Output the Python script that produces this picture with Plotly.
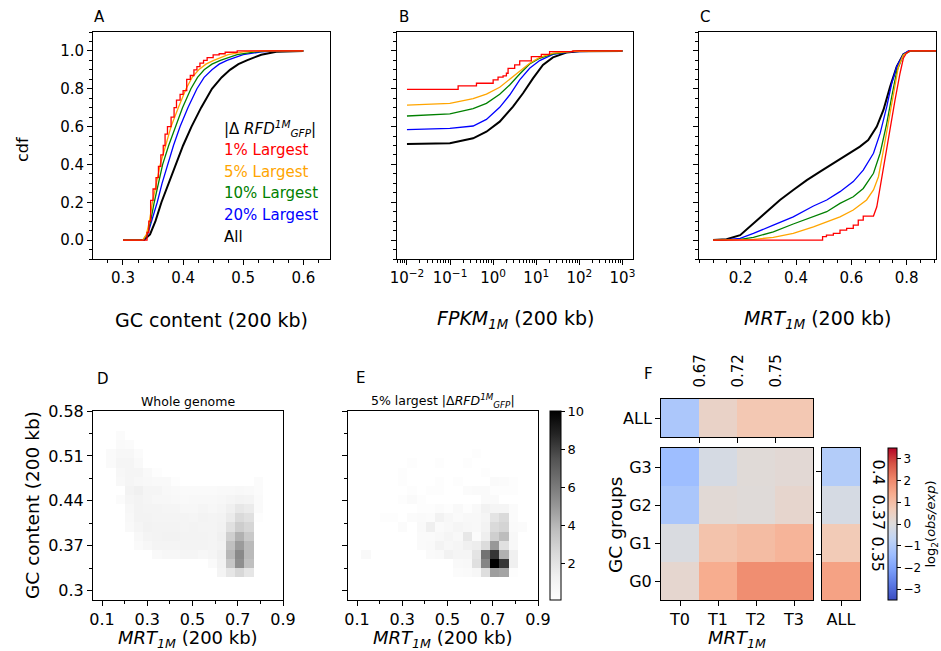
import plotly.graph_objects as go

W, H = 941, 651
FONT = "DejaVu Sans"

# ---------------------------------------------------------------- data
SERIES_NAMES = ["1% Largest", "5% Largest", "10% Largest", "20% Largest", "All"]
SERIES_COLORS = ["#ff0000", "#ffa500", "#008000", "#0000ff", "#000000"]

# Panel A : cdf of GC content (200 kb)
gc_red_x = [0.30, 0.334, 0.340, 0.343, 0.346, 0.350, 0.355, 0.359, 0.363, 0.367, 0.370, 0.374,
            0.380, 0.385, 0.389, 0.395, 0.400, 0.406, 0.412, 0.418, 0.423, 0.428, 0.434, 0.440,
            0.450, 0.460, 0.470, 0.490, 0.600]
gc_red_y = [0.0, 0.0, 0.04, 0.10, 0.21, 0.27, 0.33, 0.39, 0.45, 0.50, 0.56, 0.60,
            0.65, 0.70, 0.74, 0.77, 0.79, 0.85, 0.87, 0.90, 0.917, 0.935, 0.95, 0.965,
            0.979, 0.985, 0.993, 1.0, 1.0]
gc_cdf_y = [0.0, 0.0, 0.03, 0.10, 0.20, 0.30, 0.40, 0.50, 0.60, 0.70, 0.80, 0.86, 0.90, 0.93,
            0.95, 0.98, 0.995, 1.0, 1.0]
gc_orange_x = [0.30, 0.333, 0.339, 0.344, 0.349, 0.355, 0.362, 0.371, 0.380, 0.392, 0.405, 0.415,
               0.426, 0.438, 0.451, 0.475, 0.500, 0.530, 0.600]
gc_green_x = [0.30, 0.333, 0.340, 0.346, 0.352, 0.359, 0.366, 0.376, 0.387, 0.399, 0.413, 0.424,
              0.435, 0.448, 0.462, 0.490, 0.520, 0.550, 0.600]
gc_blue_x = [0.30, 0.334, 0.341, 0.348, 0.357, 0.365, 0.374, 0.384, 0.395, 0.408, 0.423, 0.435,
             0.448, 0.460, 0.473, 0.500, 0.530, 0.560, 0.600]
gc_all_x = [0.30, 0.335, 0.345, 0.354, 0.364, 0.376, 0.387, 0.400, 0.414, 0.430, 0.448, 0.464,
            0.478, 0.492, 0.506, 0.530, 0.555, 0.584, 0.600]

# Panel B : cdf of FPKM_1M (200 kb)
fp_red_x = [0.01, 0.154, 0.41, 1.0, 1.30, 1.70, 2.03, 2.22, 3.16, 4.13, 7.69, 13.1, 20.4, 70.8, 1000]
fp_red_y = [0.797, 0.815, 0.829, 0.847, 0.861, 0.868, 0.882, 0.908, 0.926, 0.947, 0.970, 0.982,
            0.996, 1.0, 1.0]
fp_orange_x = [0.01, 0.099, 0.343, 0.698, 1.42, 2.42, 4.13, 7.03, 12.0, 24.4, 70.8, 1000]
fp_orange_y = [0.713, 0.723, 0.748, 0.772, 0.808, 0.850, 0.891, 0.935, 0.966, 0.988, 0.998, 1.0]
fp_green_x = [0.01, 0.099, 0.343, 0.698, 1.42, 2.42, 4.13, 7.03, 12.0, 24.4, 70.8, 1000]
fp_green_y = [0.656, 0.667, 0.695, 0.723, 0.771, 0.820, 0.878, 0.931, 0.961, 0.984, 0.998, 1.0]
fp_blue_x = [0.01, 0.099, 0.343, 0.698, 1.42, 2.42, 4.13, 7.03, 12.0, 24.4, 70.8, 1000]
fp_blue_y = [0.584, 0.591, 0.603, 0.638, 0.702, 0.767, 0.847, 0.908, 0.949, 0.982, 0.996, 1.0]
fp_all_x = [0.01, 0.099, 0.343, 0.698, 1.42, 2.89, 4.93, 8.40, 14.3, 24.4, 49.7, 100, 1000]
fp_all_y = [0.508, 0.512, 0.538, 0.573, 0.626, 0.705, 0.776, 0.855, 0.926, 0.966, 0.991, 0.998, 1.0]

# Panel C : cdf of MRT_1M (200 kb)
mrt_red_x = [0.10, 0.496, 0.496, 0.51, 0.51, 0.535, 0.535, 0.559, 0.559, 0.583, 0.583, 0.607,
             0.607, 0.625, 0.625, 0.643, 0.643, 0.68, 0.692, 0.704, 0.722, 0.740, 0.758, 0.776,
             0.788, 0.800, 0.812, 0.906]
mrt_red_y = [0.0, 0.0, 0.018, 0.018, 0.026, 0.026, 0.035, 0.035, 0.053, 0.053, 0.062, 0.062,
             0.079, 0.079, 0.106, 0.106, 0.127, 0.127, 0.176, 0.282, 0.423, 0.582, 0.741, 0.882,
             0.961, 0.991, 1.0, 1.0]
mrt_orange_x = [0.10, 0.246, 0.318, 0.390, 0.463, 0.511, 0.559, 0.607, 0.655, 0.680, 0.698, 0.716,
                0.734, 0.752, 0.770, 0.788, 0.812, 0.906]
mrt_orange_y = [0.0, 0.004, 0.014, 0.035, 0.070, 0.097, 0.123, 0.159, 0.212, 0.265, 0.335, 0.476,
                0.617, 0.776, 0.917, 0.979, 1.0, 1.0]
mrt_green_x = [0.10, 0.198, 0.246, 0.318, 0.390, 0.463, 0.511, 0.559, 0.607, 0.643, 0.680, 0.704,
               0.728, 0.746, 0.764, 0.788, 0.812, 0.906]
mrt_green_y = [0.0, 0.004, 0.014, 0.044, 0.085, 0.123, 0.150, 0.194, 0.229, 0.273, 0.353, 0.459,
               0.617, 0.758, 0.891, 0.979, 1.0, 1.0]
mrt_blue_x = [0.10, 0.150, 0.198, 0.246, 0.318, 0.390, 0.463, 0.511, 0.559, 0.607, 0.643, 0.680,
              0.704, 0.728, 0.746, 0.764, 0.788, 0.806, 0.906]
mrt_blue_y = [0.0, 0.002, 0.009, 0.035, 0.079, 0.123, 0.180, 0.212, 0.256, 0.309, 0.370, 0.459,
              0.564, 0.705, 0.829, 0.917, 0.982, 1.0, 1.0]
mrt_all_x = [0.10, 0.149, 0.198, 0.246, 0.294, 0.342, 0.390, 0.439, 0.487, 0.535, 0.583, 0.631,
             0.661, 0.692, 0.716, 0.740, 0.764, 0.788, 0.812, 0.906]
mrt_all_y = [0.0, 0.004, 0.026, 0.088, 0.150, 0.212, 0.265, 0.317, 0.362, 0.406, 0.450, 0.494,
             0.529, 0.600, 0.688, 0.811, 0.917, 0.982, 1.0, 1.0]

# Panels D / E : 2D histograms (rows listed top -> bottom, 20 MRT bins x 20 GC bins)
D_rows = [
    [0]*20,
    [0]*20,
    [0, 0, 0.4] + [0]*17,
    [0, 0, 0.5, 0.4] + [0]*16,
    [0, 0.5, 0.8, 0.8, 0.4] + [0]*15,
    [0, 0.5, 0.9, 0.9, 0.6] + [0]*15,
    [0, 0, 0.8, 0.9, 0.9, 0.6, 0.3] + [0]*13,
    [0, 0, 0.7, 0.9, 0.8, 0.7, 0.6, 0.6, 0.3, 0, 0, 0, 0, 0, 0, 0, 0, 0.4, 0, 0],
    [0, 0, 0, 1.1, 1.3, 0.9, 0.9, 0.7, 0.6, 0.5, 0.5, 0.5, 0.5, 0.6, 0.6, 0.7, 0.6, 0.4, 0, 0],
    [0, 0, 0.4, 0.9, 1.1, 0.9, 0.8, 0.8, 0.7, 0.6, 0.7, 0.7, 0.7, 0.8, 0.9, 1.1, 1.0, 0.5, 0, 0],
    [0, 0, 0, 0.8, 1.1, 1.0, 1.0, 0.9, 0.9, 0.8, 0.8, 0.9, 0.8, 0.9, 1.3, 1.8, 1.6, 0.5, 0, 0],
    [0, 0, 0, 0.7, 1.1, 1.1, 1.0, 1.0, 1.0, 1.0, 0.9, 1.1, 1.0, 1.1, 1.6, 2.5, 2.2, 0.3, 0, 0],
    [0, 0, 0, 0.6, 0.9, 1.2, 1.1, 1.1, 1.1, 1.0, 1.1, 1.0, 1.0, 1.2, 2.2, 3.1, 2.7, 0, 0, 0],
    [0, 0, 0, 0, 0.7, 1.0, 1.1, 1.2, 1.2, 1.1, 1.1, 1.1, 1.0, 1.3, 3.0, 4.2, 3.3, 0, 0, 0],
    [0, 0, 0, 0, 0.5, 0.8, 1.0, 1.0, 1.0, 1.1, 1.1, 1.1, 1.0, 1.2, 3.7, 4.9, 3.9, 0, 0, 0],
    [0, 0, 0, 0, 0, 0, 0.6, 0.8, 0.8, 0.9, 0.9, 0.8, 0.9, 1.3, 4.0, 5.5, 3.9, 0, 0, 0],
    [0, 0, 0, 0, 0, 0, 0, 0, 0, 0, 0, 0, 0.5, 1.2, 3.4, 5.3, 3.7, 0, 0, 0],
    [0, 0, 0, 0, 0, 0, 0, 0, 0, 0, 0, 0, 0, 1.0, 1.9, 2.6, 1.9, 0, 0, 0],
    [0]*20,
    [0]*20,
]
E_rows = [
    [0]*20,
    [0]*20,
    [0]*20,
    [0]*20,
    [0]*13 + [0.3] + [0]*6,
    [0, 0, 0, 0, 0, 0, 0.3, 0, 0, 0.3, 0, 0, 0.3, 0, 0, 0, 0, 0, 0, 0],
    [0, 0, 0, 0, 0, 0.3, 0, 0, 0, 0, 0, 0, 0, 0, 0.3, 0, 0, 0, 0, 0],
    [0, 0, 0, 0, 0, 0.3, 0, 0, 0, 0.3, 0, 0.3, 0, 0, 0, 0.5, 0.4, 0.3, 0, 0],
    [0, 0, 0, 0, 0, 0, 0.3, 0, 0.3, 0.3, 0, 0, 0.4, 0.5, 0.5, 0.3, 0.3, 0.3, 0, 0],
    [0, 0, 0, 0, 0, 0.3, 0.5, 0.3, 0, 0, 0, 0, 0, 0, 0.5, 0.5, 0, 0, 0, 0],
    [0, 0, 0, 0, 0, 0, 0, 0.3, 0.3, 0.4, 0.3, 0.6, 0.3, 0.6, 1.2, 0.9, 0.9, 0.4, 0, 0],
    [0, 0, 0, 0.3, 0.3, 0, 0.4, 0.5, 0.4, 1.2, 0.8, 0.5, 0.7, 0.7, 0.9, 2.0, 2.5, 0.4, 0, 0],
    [0, 0, 0, 0, 0, 0.4, 0, 0.6, 1.4, 0.5, 0.7, 0.9, 0.8, 0.7, 1.1, 2.5, 2.8, 0.5, 0.4, 0],
    [0, 0, 0, 0, 0, 0, 0, 0.5, 0.5, 0.7, 0.9, 0.7, 1.8, 0.4, 1.4, 3.0, 3.8, 0.7, 0, 0],
    [0, 0, 0, 0, 0, 0, 0, 0.5, 0.6, 1.1, 0.8, 0.9, 1.3, 1.5, 2.4, 5.0, 2.2, 0.7, 0, 0],
    [0, 0.6, 0, 0, 0, 0, 0, 0, 0.5, 0.6, 1.2, 0.9, 0.9, 2.0, 6.3, 8.3, 4.2, 1.3, 0, 0],
    [0, 0, 0, 0, 0, 0, 0, 0, 0, 0, 0, 0.6, 0.7, 2.2, 5.6, 10.0, 8.3, 1.3, 0, 0],
    [0, 0, 0, 0, 0, 0, 0, 0, 0, 0, 0, 0.4, 0.5, 0.8, 2.3, 4.8, 4.6, 0.3, 0, 0],
    [0]*20,
    [0]*20,
]
hist_mrt_first_center = 0.0988
hist_mrt_step = 0.0406
hist_gc_first_center = 0.3001
hist_gc_step = 0.01422
hist_gc_ticks = [0.3, 0.37, 0.44, 0.51, 0.58]

# Panel F : log2(obs/exp) enrichment
F_mrt_groups = ["T0", "T1", "T2", "T3"]
F_gc_groups = ["G0", "G1", "G2", "G3"]
F_main = [            # rows G0 .. G3, columns T0 .. T3
    [0.25, 1.38, 1.93, 1.93],
    [-0.10, 0.88, 1.04, 1.22],
    [-1.15, 0.14, 0.07, 0.29],
    [-1.41, -0.19, 0.10, 0.15],
]
F_top_all = [-1.12, 0.40, 0.77, 0.77]
F_right_all = [1.58, 0.70, -0.19, -0.97]   # G0 .. G3
F_mrt_bounds = ["0.67", "0.72", "0.75"]
F_mrt_bound_pos = [0.5, 1.5, 2.5]
F_gc_bounds = ["0.4", "0.37", "0.35"]
F_gc_bound_pos = [2.88, 1.80, 0.70]

# ---------------------------------------------------------------- helpers
def dx(a, b):
    return [a / W, b / W]


def dy(top, bottom):
    return [1 - bottom / H, 1 - top / H]


def ann(text, px, py, size, angle=0, xanchor="center", yanchor="middle", color="black"):
    return dict(text=text, x=px / W, y=1 - py / H, xref="paper", yref="paper",
                showarrow=False, textangle=angle, xanchor=xanchor, yanchor=yanchor,
                font=dict(family=FONT, size=size, color=color))


base = dict(showline=True, linecolor="black", linewidth=1, mirror=True, ticks="outside",
            ticklen=5, tickwidth=1, tickcolor="black", showgrid=False, zeroline=False,
            tickfont=dict(family=FONT, size=15, color="black"))

GREYS = [[0, "#ffffff"], [0.125, "#f0f0f0"], [0.25, "#d9d9d9"], [0.375, "#bdbdbd"],
         [0.5, "#969696"], [0.625, "#737373"], [0.75, "#525252"], [0.875, "#252525"],
         [1, "#000000"]]
CW = ["#3b4cc0", "#5977e3", "#7b9ff9", "#9ebeff", "#c0d4f5", "#dddcdc",
      "#f2cbb7", "#f7ac8e", "#ee8468", "#d65244", "#b40426"]
COOLWARM = [[i / 10, c] for i, c in enumerate(CW)]

fig = go.Figure()

# ---------------------------------------------------------------- cdf panels
def add_cdf(xs, ys, color, axis, step=False, width=1.3):
    fig.add_trace(go.Scatter(x=xs, y=ys, mode="lines", xaxis=axis[0], yaxis=axis[1],
                             line=dict(color=color, width=width, shape="hv" if step else "linear"),
                             showlegend=False, hoverinfo="skip"))


A = ("x", "y")
add_cdf(gc_all_x, gc_cdf_y, SERIES_COLORS[4], A, width=2)
add_cdf(gc_blue_x, gc_cdf_y, SERIES_COLORS[3], A)
add_cdf(gc_green_x, gc_cdf_y, SERIES_COLORS[2], A)
add_cdf(gc_orange_x, gc_cdf_y, SERIES_COLORS[1], A)
add_cdf(gc_red_x, gc_red_y, SERIES_COLORS[0], A, step=True)

B = ("x2", "y2")
add_cdf(fp_all_x, fp_all_y, SERIES_COLORS[4], B, width=2)
add_cdf(fp_blue_x, fp_blue_y, SERIES_COLORS[3], B)
add_cdf(fp_green_x, fp_green_y, SERIES_COLORS[2], B)
add_cdf(fp_orange_x, fp_orange_y, SERIES_COLORS[1], B)
add_cdf(fp_red_x, fp_red_y, SERIES_COLORS[0], B, step=True)

C = ("x3", "y3")
add_cdf(mrt_all_x, mrt_all_y, SERIES_COLORS[4], C, width=2)
add_cdf(mrt_blue_x, mrt_blue_y, SERIES_COLORS[3], C)
add_cdf(mrt_green_x, mrt_green_y, SERIES_COLORS[2], C)
add_cdf(mrt_orange_x, mrt_orange_y, SERIES_COLORS[1], C)
add_cdf(mrt_red_x, mrt_red_y, SERIES_COLORS[0], C)

# ---------------------------------------------------------------- D / E heatmaps
for rows, xa, ya in [(D_rows, "x4", "y4"), (E_rows, "x5", "y5")]:
    fig.add_trace(go.Heatmap(z=rows[::-1], x0=hist_mrt_first_center, dx=hist_mrt_step,
                             y0=hist_gc_first_center, dy=hist_gc_step, coloraxis="coloraxis",
                             xaxis=xa, yaxis=ya, hoverinfo="skip"))

# ---------------------------------------------------------------- F heatmaps
fig.add_trace(go.Heatmap(z=[F_top_all], x=list(range(4)), y=[0], coloraxis="coloraxis2",
                         xaxis="x6", yaxis="y6", hoverinfo="skip"))
fig.add_trace(go.Heatmap(z=F_main, x=list(range(4)), y=list(range(4)), coloraxis="coloraxis2",
                         xaxis="x7", yaxis="y7", hoverinfo="skip"))
fig.add_trace(go.Heatmap(z=[[v] for v in F_right_all], x=[0], y=list(range(4)),
                         coloraxis="coloraxis2", xaxis="x8", yaxis="y8", hoverinfo="skip"))

# ---------------------------------------------------------------- axes
big = dict(family=FONT, size=16, color="black")
cdf_y = dict(base, range=[-0.1, 1.1], dtick=0.2, tick0=0, tickformat=".1f",
             minor=dict(ticks="outside", ticklen=3, dtick=0.05, tick0=0, tickcolor="black"))
layout = dict(
    width=W, height=H, margin=dict(l=0, r=0, t=0, b=0, autoexpand=False),
    paper_bgcolor="white", plot_bgcolor="white", showlegend=False,
    font=dict(family=FONT, color="black"),
    xaxis=dict(base, domain=dx(93, 330), range=[0.2501, 0.6444], dtick=0.1, tick0=0,
               tickformat=".1f", anchor="y",
               minor=dict(ticks="outside", ticklen=3, dtick=0.025, tick0=0, tickcolor="black")),
    yaxis=dict(cdf_y, domain=dy(32, 259), anchor="x"),
    xaxis2=dict(base, domain=dx(397, 633), type="log", range=[-2.231, 3.245], anchor="y2",
                tickvals=[0.01, 0.1, 1, 10, 100, 1000],
                ticktext=["10<sup>−2</sup>", "10<sup>−1</sup>", "10<sup>0</sup>",
                          "10<sup>1</sup>", "10<sup>2</sup>", "10<sup>3</sup>"],
                minor=dict(ticks="outside", ticklen=3, dtick="D1", tickcolor="black")),
    yaxis2=dict(cdf_y, domain=dy(32, 259), anchor="x2", showticklabels=False),
    xaxis3=dict(base, domain=dx(699, 936), range=[0.0493, 0.906], dtick=0.2, tick0=0,
                tickformat=".1f", anchor="y3",
                minor=dict(ticks="outside", ticklen=3, dtick=0.05, tick0=0, tickcolor="black")),
    yaxis3=dict(cdf_y, domain=dy(32, 259), anchor="x3", showticklabels=False),
    xaxis4=dict(base, domain=dx(93, 283), range=[0.06, 0.9], tick0=0.1, dtick=0.2,
                tickformat=".1f", anchor="y4", tickfont=big,
                minor=dict(ticks="outside", ticklen=3, dtick=0.1, tick0=0, tickcolor="black")),
    yaxis4=dict(base, domain=dy(411, 600), range=[0.2855, 0.58], anchor="x4",
                tickvals=hist_gc_ticks, ticktext=[str(v) for v in hist_gc_ticks], tickfont=big,
                minor=dict(ticks="outside", ticklen=3, tickcolor="black",
                           tickvals=[0.335, 0.405, 0.475, 0.545])),
    xaxis5=dict(base, domain=dx(348, 538), range=[0.06, 0.9], tick0=0.1, dtick=0.2,
                tickformat=".1f", anchor="y5", tickfont=big,
                minor=dict(ticks="outside", ticklen=3, dtick=0.1, tick0=0, tickcolor="black")),
    yaxis5=dict(base, domain=dy(411, 600), range=[0.2855, 0.58], anchor="x5",
                tickvals=hist_gc_ticks, showticklabels=False,
                minor=dict(ticks="outside", ticklen=3, tickcolor="black",
                           tickvals=[0.335, 0.405, 0.475, 0.545])),
    # F top strip
    xaxis6=dict(base, domain=dx(661, 813), range=[-0.5, 3.5], anchor="y6",
                tickvals=F_mrt_bound_pos, showticklabels=False),
    yaxis6=dict(base, domain=dy(399, 437), range=[-0.5, 0.5], anchor="x6",
                tickvals=[0], ticktext=["ALL"], tickfont=big),
    # F main
    xaxis7=dict(base, domain=dx(661, 813), range=[-0.5, 3.5], anchor="y7",
                tickvals=list(range(4)), ticktext=F_mrt_groups, tickfont=big),
    yaxis7=dict(base, domain=dy(448, 600), range=[-0.5, 3.5], anchor="x7",
                tickvals=list(range(4)), ticktext=F_gc_groups, tickfont=big),
    # F right strip
    xaxis8=dict(base, domain=dx(822, 860), range=[-0.5, 0.5], anchor="y8",
                tickvals=[0], ticktext=["ALL"], tickfont=big),
    yaxis8=dict(base, domain=dy(448, 600), range=[-0.5, 3.5], anchor="x8",
                tickvals=F_gc_bound_pos, showticklabels=False),
    coloraxis=dict(colorscale=GREYS, cmin=0.1, cmax=10,
                   colorbar=dict(x=550 / W, xanchor="left", y=1 - 505.5 / H, yanchor="middle",
                                 len=189, lenmode="pixels", thickness=11, thicknessmode="pixels",
                                 xpad=0, ypad=0, outlinewidth=1, outlinecolor="black",
                                 tickvals=[2, 4, 6, 8, 10], ticks="outside", ticklen=4,
                                 tickcolor="black",
                                 tickfont=dict(family=FONT, size=13, color="black"))),
    coloraxis2=dict(colorscale=COOLWARM, cmin=-3.5, cmax=3.5,
                    colorbar=dict(x=888 / W, xanchor="left", y=1 - 524 / H, yanchor="middle",
                                  len=152, lenmode="pixels", thickness=9, thicknessmode="pixels",
                                  xpad=0, ypad=0, outlinewidth=1, outlinecolor="black",
                                  tickvals=[-3, -2, -1, 0, 1, 2, 3], ticks="outside", ticklen=4,
                                  tickcolor="black",
                                  tickfont=dict(family=FONT, size=12, color="black"),
                                  title=dict(text="log<sub>2</sub>(<i>obs/exp</i>)", side="right",
                                             font=dict(family=FONT, size=13, color="black")))),
)

annotations = [
    ann("A", 99, 17, 15), ann("B", 404, 17, 15), ann("C", 705, 17, 15),
    ann("D", 103, 379, 15), ann("E", 360, 378, 15), ann("F", 648, 374, 15),
    ann("cdf", 22, 150, 16, angle=-90),
    ann("GC content (200 kb)", 211.5, 320, 19),
    ann("<i>FPKM</i><sub><i>1M</i></sub> (200 kb)", 515, 320, 19),
    ann("<i>MRT</i><sub><i>1M</i></sub> (200 kb)", 817.5, 320, 19),
    ann("|Δ <i>RFD</i><sup><i>1M</i></sup><sub><i>GFP</i></sub>|", 222, 128, 15, xanchor="left"),
    ann("Whole genome", 188, 401, 12.5),
    ann("5% largest |Δ<i>RFD</i><sup><i>1M</i></sup><sub><i>GFP</i></sub>|", 443, 401, 12.5),
    ann("GC content (200 kb)", 32, 505, 18.5, angle=-90),
    ann("<i>MRT</i><sub><i>1M</i></sub> (200 kb)", 188, 625, 18, yanchor="top"),
    ann("<i>MRT</i><sub><i>1M</i></sub> (200 kb)", 443, 625, 18, yanchor="top"),
    ann("GC groups", 615, 525, 18.5, angle=-90),
    ann("<i>MRT</i><sub><i>1M</i></sub>", 737, 625, 18, yanchor="top"),
]
legend_y = [150, 172, 193, 215, 237]
for name, color, py in zip(SERIES_NAMES, SERIES_COLORS, legend_y):
    annotations.append(ann(name, 222, py, 15, xanchor="left", color=color))
# boundary labels of panel F (rotated tick labels on the opposite side of the strips)
for text, pos in zip(F_mrt_bounds, F_mrt_bound_pos):
    annotations.append(dict(text=text, x=pos, xref="x6", y=1 - 390 / H, yref="paper",
                            showarrow=False, textangle=-90, xanchor="center", yanchor="bottom",
                            font=dict(family=FONT, size=15, color="black")))
for text, pos in zip(F_gc_bounds, F_gc_bound_pos):
    annotations.append(dict(text=text, x=878 / W, xref="paper", y=pos, yref="y8",
                            showarrow=False, textangle=90, xanchor="center", yanchor="middle",
                            font=dict(family=FONT, size=16, color="black")))
layout["annotations"] = annotations

fig.update_layout(**layout)
fig.write_html("out.html", config={"displayModeBar": False},
               post_script="document.body.style.margin='0px';"
                           "document.body.style.overflow='hidden';")
